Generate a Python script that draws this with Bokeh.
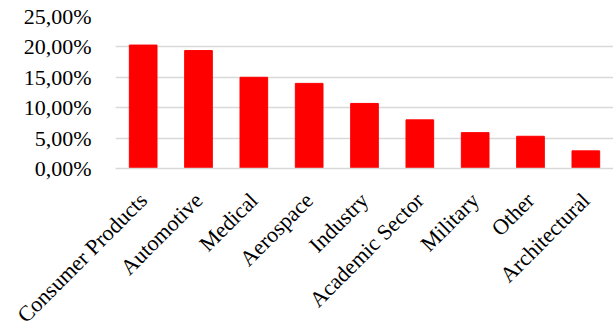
import math
from bokeh.plotting import figure
from bokeh.models import FixedTicker, Range1d
from bokeh.embed import file_html
from bokeh.resources import INLINE

categories = ["Consumer Products", "Automotive", "Medical", "Aerospace", "Industry",
              "Academic Sector", "Military", "Other", "Architectural"]
values = [20.3, 19.4, 15.0, 14.0, 10.7, 8.0, 5.9, 5.3, 2.9]
y_ticks = [0, 5, 10, 15, 20, 25]
y_tick_labels = ["0,00%", "5,00%", "10,00%", "15,00%", "20,00%", "25,00%"]

FONT = "Liberation Serif"

p = figure(x_range=categories, y_range=Range1d(0, 25),
           frame_width=498, frame_height=152,
           min_border_left=115, min_border_right=0, min_border_top=16, min_border_bottom=0,
           output_backend="svg", toolbar_location=None)

p.vbar(x=categories, top=values, width=0.5, fill_color="#FF0000", line_color="#FF0000")

p.outline_line_color = None
p.xgrid.grid_line_color = None
p.ygrid.grid_line_color = "#d9d9d9"
p.ygrid.grid_line_width = 1.3
p.yaxis.ticker = FixedTicker(ticks=y_ticks)
p.yaxis.major_label_overrides = {t: l for t, l in zip(y_ticks, y_tick_labels)}

for ax in (p.xaxis, p.yaxis):
    ax.axis_line_color = None
    ax.major_tick_line_color = None
    ax.minor_tick_line_color = None
    ax.major_tick_out = 0
    ax.major_tick_in = 0
    ax.major_label_text_font = FONT
    ax.major_label_text_color = "black"

p.yaxis.major_label_text_font_size = "22px"
p.xaxis.major_label_text_font_size = "22px"
p.xaxis.axis_line_color = "#d9d9d9"
p.xaxis.axis_line_width = 1.3
p.yaxis.major_label_standoff = 24
p.xaxis.major_label_standoff = 28
p.xaxis.major_label_orientation = math.pi / 4

open("out.html", "w").write(file_html(p, INLINE))
